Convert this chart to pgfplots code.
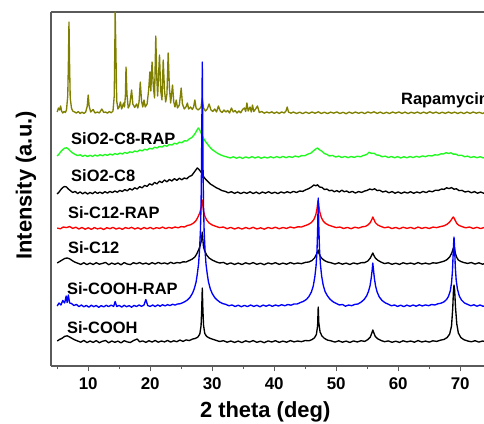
\documentclass[border=0pt]{standalone}
\usepackage{pgfplots}
\pgfplotsset{compat=1.18}
\usepackage{fontspec}
\setmainfont{Liberation Sans}
\definecolor{olivec}{RGB}{128,128,0}
\definecolor{limec}{RGB}{30,250,30}
\definecolor{axgray}{RGB}{90,90,90}
\tikzset{lab/.style={anchor=base west, inner sep=0pt, font=\fontsize{16.5}{16.5}\selectfont\bfseries}}
\begin{document}
\begin{tikzpicture}
\begin{axis}[
  at={(0,0)}, anchor=south west,
  scale only axis, width=437.1bp, height=354bp,
  xmin=4, xmax=74.5, ymin=0, ymax=354,
  axis x line=box, axis y line=left,
  x axis line style={-}, y axis line style={-},
  axis line style={draw=axgray, line width=1.1pt},
  ytick=\empty,
  xtick={10,20,...,70}, minor xtick={5,15,...,75},
  xtick pos=bottom, tick align=outside,
  major tick length=5bp, minor tick length=3bp,
  every tick/.style={draw=axgray, line width=1pt},
  /pgf/number format/assume math mode=true,
  tick label style={font=\fontsize{17}{17}\selectfont\bfseries},
  xticklabel style={yshift=-3bp},
  xlabel={2 theta (deg)},
  xlabel style={font=\fontsize{22}{22}\selectfont\bfseries, at={(axis description cs:0.49,0)}, anchor=base, yshift=-51bp},
  ylabel={Intensity (a.u.)},
  ylabel style={font=\fontsize{22}{22}\selectfont\bfseries, at={(axis description cs:-0.0572,0.51)}, anchor=center},
  every axis plot/.append style={line width=1.35pt, line join=round},
]
% Rapamycin
\addplot[olivec] coordinates {(5.0,254.0)(5.2,258.0)(5.4,256.0)(5.55,260.0)(5.7,255.0)(5.9,253.0)(6.1,254.5)(6.3,253.5)(6.5,256.0)(6.7,270.0)(6.8,300.0)(6.9,344.0)(7.0,300.0)(7.1,268.0)(7.3,258.0)(7.5,255.0)(7.8,254.0)(8.1,253.0)(8.4,254.5)(8.7,252.5)(9.0,253.8)(9.3,252.6)(9.6,254.0)(9.85,260.0)(10.0,271.0)(10.15,260.0)(10.4,254.0)(10.8,256.5)(11.1,253.0)(11.5,254.0)(11.8,253.0)(12.2,257.0)(12.5,253.5)(12.8,254.0)(13.1,252.8)(13.4,254.5)(13.7,253.2)(14.0,255.0)(14.2,270.0)(14.3,320.0)(14.35,354.0)(14.45,320.0)(14.6,265.0)(14.8,257.0)(15.0,259.0)(15.2,264.0)(15.4,257.0)(15.7,263.0)(15.85,259.0)(16.0,270.0)(16.1,299.0)(16.25,272.0)(16.45,258.0)(16.7,261.0)(17.0,276.0)(17.2,262.0)(17.5,258.5)(17.8,262.0)(18.0,258.0)(18.2,264.0)(18.4,284.0)(18.6,265.0)(18.8,259.0)(19.0,266.0)(19.2,259.0)(19.5,262.0)(19.75,276.0)(19.95,294.0)(20.1,275.0)(20.3,304.0)(20.5,280.0)(20.7,268.0)(20.9,330.0)(21.05,290.0)(21.2,270.0)(21.5,311.0)(21.7,275.0)(21.9,266.0)(22.1,306.0)(22.3,276.0)(22.5,264.0)(22.7,272.0)(22.9,313.0)(23.1,278.0)(23.3,263.0)(23.6,281.0)(23.8,264.0)(24.0,259.0)(24.2,266.0)(24.4,258.0)(24.7,261.0)(25.0,278.0)(25.2,262.0)(25.5,257.0)(25.8,259.5)(26.0,263.0)(26.2,257.0)(26.5,259.0)(26.8,256.5)(27.0,259.0)(27.2,266.0)(27.4,258.0)(27.7,256.0)(28.0,257.5)(28.2,259.0)(28.4,268.0)(28.6,258.0)(28.9,255.0)(29.2,257.0)(29.5,262.0)(29.8,256.0)(30.1,254.5)(30.4,257.0)(30.7,254.0)(31.0,260.0)(31.3,255.0)(31.6,253.5)(31.9,256.0)(32.2,254.0)(32.5,255.5)(32.8,253.0)(33.1,258.0)(33.4,254.0)(33.7,255.5)(34.0,253.0)(34.3,255.0)(34.6,253.2)(34.9,256.5)(35.2,258.0)(35.4,254.5)(35.6,263.0)(35.8,255.0)(36.1,259.0)(36.3,254.0)(36.5,261.0)(36.7,254.5)(37.0,257.0)(37.3,260.0)(37.6,253.5)(38.0,254.5)(38.4,252.8)(38.8,254.0)(39.2,253.0)(39.6,254.2)(40.0,252.6)(40.4,254.0)(40.8,252.5)(41.2,254.1)(41.6,253.0)(41.9,255.0)(42.1,259.0)(42.3,254.0)(42.7,252.8)(43.1,254.0)(43.6,252.5)(44.1,253.8)(44.6,252.4)(45.1,253.9)(45.6,252.6)(46.1,254.0)(46.6,252.7)(47.1,254.2)(47.6,252.5)(48.1,253.8)(48.6,252.4)(49.1,253.9)(49.6,252.8)(50.1,254.1)(50.6,252.5)(51.1,253.7)(51.6,252.3)(52.1,253.9)(52.6,252.6)(53.1,254.0)(53.6,252.7)(54.1,253.8)(54.6,252.4)(55.1,254.1)(55.6,252.9)(56.1,254.2)(56.6,252.6)(57.1,253.9)(57.6,252.4)(58.1,253.7)(58.6,252.5)(59.1,254.0)(59.6,252.8)(60.1,254.1)(60.6,252.6)(61.1,253.9)(61.6,252.4)(62.1,253.8)(62.6,252.7)(63.1,254.0)(63.6,252.5)(64.1,253.9)(64.6,252.6)(65.1,254.2)(65.6,252.8)(66.1,253.9)(66.6,252.5)(67.1,253.8)(67.6,252.6)(68.1,254.0)(68.6,252.7)(69.1,253.9)(69.6,252.5)(70.1,253.8)(70.6,252.4)(71.1,253.9)(71.6,252.6)(72.1,254.0)(72.6,252.8)(73.1,253.7)(73.6,252.5)(74.1,253.9)(74.6,252.7)};
% SiO2-C8-RAP
\addplot[limec] coordinates {(5.0,210.0)(5.3,212.0)(5.6,214.5)(5.9,216.5)(6.2,217.8)(6.5,218.2)(6.8,217.0)(7.1,215.0)(7.5,213.0)(7.9,211.5)(8.3,210.4)(8.7,211.2)(9.1,209.6)(9.5,210.8)(9.9,209.4)(10.3,210.7)(10.7,209.6)(11.1,211.0)(11.5,209.9)(11.9,211.3)(12.3,210.2)(12.7,211.6)(13.1,210.6)(13.5,212.0)(13.9,211.0)(14.3,212.4)(14.7,211.5)(15.1,212.9)(15.5,212.0)(15.9,213.6)(16.3,212.6)(16.7,214.2)(17.1,213.4)(17.5,215.0)(17.9,214.2)(18.3,216.0)(18.7,215.1)(19.1,216.8)(19.5,216.0)(19.9,217.8)(20.3,217.0)(20.7,218.7)(21.1,218.0)(21.5,219.6)(21.9,218.9)(22.3,220.6)(22.7,219.8)(23.1,221.6)(23.5,220.9)(23.9,222.8)(24.3,222.0)(24.7,223.9)(25.1,223.2)(25.5,225.2)(25.9,225.0)(26.3,227.0)(26.7,228.4)(27.0,230.5)(27.3,233.0)(27.55,236.0)(27.75,238.0)(27.95,236.5)(28.2,233.0)(28.5,229.0)(28.8,225.5)(29.1,223.0)(29.5,219.8)(29.9,217.0)(30.4,214.6)(30.9,212.6)(31.4,211.0)(31.9,209.8)(32.4,209.0)(32.9,208.0)(33.4,209.2)(33.9,207.8)(34.4,209.0)(34.9,207.6)(35.4,209.1)(35.9,207.9)(36.4,209.4)(36.9,208.0)(37.4,209.2)(37.9,207.7)(38.4,209.0)(38.9,207.9)(39.4,209.3)(39.9,208.1)(40.4,209.4)(40.9,208.2)(41.4,209.6)(41.9,208.3)(42.4,209.5)(42.9,208.6)(43.4,210.0)(43.9,209.0)(44.4,210.4)(44.9,210.2)(45.4,211.8)(45.9,212.8)(46.3,215.0)(46.7,217.0)(47.0,218.0)(47.3,216.2)(47.7,214.8)(48.1,212.4)(48.5,211.6)(48.9,210.0)(49.4,210.6)(49.9,209.0)(50.4,209.9)(50.9,208.5)(51.4,209.6)(51.9,208.3)(52.4,209.5)(52.9,208.6)(53.4,209.8)(53.9,209.2)(54.4,210.6)(54.9,211.4)(55.3,213.8)(55.7,212.6)(56.1,212.8)(56.5,211.0)(56.9,210.8)(57.4,209.2)(57.9,209.9)(58.4,208.4)(58.9,209.6)(59.4,208.2)(59.9,209.4)(60.4,208.0)(60.9,209.3)(61.4,208.2)(61.9,209.5)(62.4,208.4)(62.9,209.7)(63.4,208.8)(63.9,210.1)(64.4,209.3)(64.9,210.5)(65.4,210.0)(65.9,211.2)(66.4,210.9)(66.9,212.2)(67.3,212.0)(67.7,213.3)(68.1,212.5)(68.5,213.2)(68.9,211.8)(69.3,211.9)(69.7,210.5)(70.2,210.8)(70.7,209.3)(71.2,209.9)(71.7,208.5)(72.2,209.4)(72.7,208.2)(73.2,209.3)(73.7,208.1)(74.2,209.1)(74.8,208.4)};
% SiO2-C8
\addplot[black] coordinates {(5.0,172.0)(5.3,174.0)(5.6,176.5)(5.9,178.5)(6.2,179.5)(6.5,179.0)(6.8,177.0)(7.1,175.5)(7.5,173.5)(7.9,174.6)(8.3,172.4)(8.7,174.1)(9.1,172.2)(9.5,173.8)(9.9,172.0)(10.3,173.6)(10.7,172.3)(11.1,174.2)(11.5,172.6)(11.9,173.9)(12.3,172.5)(12.7,174.4)(13.1,172.9)(13.5,174.6)(13.9,173.4)(14.3,175.0)(14.7,173.8)(15.1,175.6)(15.5,174.5)(15.9,176.4)(16.3,175.2)(16.7,177.3)(17.1,176.0)(17.5,178.2)(17.9,177.0)(18.3,179.4)(18.7,178.1)(19.1,180.6)(19.5,179.6)(19.9,182.2)(20.3,181.0)(20.7,183.5)(21.1,182.2)(21.5,184.8)(21.9,183.4)(22.3,186.0)(22.7,184.2)(23.1,186.5)(23.5,185.0)(23.9,187.4)(24.3,185.6)(24.7,187.8)(25.1,186.2)(25.5,188.0)(25.9,187.2)(26.3,189.5)(26.7,190.5)(27.0,193.0)(27.3,195.5)(27.6,198.0)(27.8,197.0)(28.0,195.5)(28.3,193.0)(28.6,189.5)(28.9,187.0)(29.3,184.5)(29.7,182.0)(30.1,180.5)(30.6,178.5)(31.1,177.0)(31.6,175.4)(32.1,174.6)(32.6,173.2)(33.1,174.3)(33.6,172.6)(34.1,174.0)(34.6,172.4)(35.1,173.8)(35.6,172.7)(36.1,174.2)(36.6,172.5)(37.1,173.9)(37.6,172.3)(38.1,174.0)(38.6,172.8)(39.1,174.3)(39.6,172.6)(40.1,173.8)(40.6,172.4)(41.1,174.1)(41.6,172.9)(42.1,174.3)(42.6,173.1)(43.1,174.6)(43.6,173.5)(44.1,175.0)(44.6,174.6)(45.1,176.2)(45.6,177.5)(46.0,179.0)(46.4,181.0)(46.7,180.2)(47.0,181.2)(47.3,179.0)(47.7,178.6)(48.1,176.5)(48.5,176.9)(48.9,175.2)(49.3,175.8)(49.7,174.2)(50.1,175.4)(50.5,174.0)(50.9,175.8)(51.3,174.3)(51.7,175.0)(52.1,173.4)(52.6,174.6)(53.1,173.0)(53.6,174.4)(54.1,173.6)(54.6,175.0)(55.0,175.6)(55.4,177.0)(55.8,176.2)(56.2,177.2)(56.6,175.4)(57.0,175.8)(57.5,174.0)(58.0,174.9)(58.5,173.2)(59.0,174.4)(59.5,172.8)(60.0,174.1)(60.5,172.6)(61.0,174.0)(61.5,172.9)(62.0,174.3)(62.5,172.7)(63.0,174.1)(63.5,173.0)(64.0,174.6)(64.5,173.4)(65.0,175.0)(65.5,174.2)(66.0,175.8)(66.5,175.6)(67.0,177.0)(67.4,176.6)(67.8,178.2)(68.2,177.4)(68.6,178.4)(69.0,176.8)(69.4,177.2)(69.8,175.4)(70.3,175.6)(70.8,174.0)(71.3,174.8)(71.8,173.2)(72.3,174.4)(72.8,172.8)(73.3,174.0)(73.8,172.7)(74.3,173.8)(74.8,173.0)};
% Si-C12-RAP
\addplot[red] coordinates {(5.0,138.0)(5.5,137.2)(6.0,139.0)(6.5,138.4)(7.0,139.5)(7.5,137.6)(8.0,138.8)(8.5,137.0)(9.0,138.5)(9.5,136.8)(10.0,138.2)(10.5,136.6)(11.0,138.4)(11.5,137.1)(12.0,138.0)(12.5,136.5)(13.0,138.3)(13.5,137.3)(14.0,138.6)(14.5,136.9)(15.0,138.1)(15.5,136.7)(16.0,138.4)(16.5,137.4)(17.0,138.7)(17.5,137.0)(18.0,138.2)(18.5,136.8)(19.0,138.5)(19.5,137.2)(20.0,138.6)(20.5,137.1)(21.0,138.3)(21.5,137.6)(22.0,138.9)(22.5,137.4)(23.0,138.6)(23.5,137.8)(24.0,139.0)(24.5,138.2)(25.0,139.4)(25.5,139.0)(26.0,140.5)(26.5,141.2)(27.0,143.0)(27.4,145.5)(27.7,149.0)(28.0,153.0)(28.2,158.0)(28.3,162.0)(28.4,166.0)(28.5,160.0)(28.6,155.0)(28.8,150.0)(29.1,146.0)(29.5,143.0)(30.0,141.0)(30.6,139.6)(31.2,138.4)(31.8,139.0)(32.4,137.3)(33.0,138.6)(33.6,137.0)(34.2,138.4)(34.8,136.9)(35.4,138.5)(36.0,137.2)(36.6,138.7)(37.2,137.0)(37.8,138.2)(38.4,136.8)(39.0,138.6)(39.6,137.4)(40.2,138.8)(40.8,137.2)(41.4,138.5)(42.0,137.6)(42.6,139.0)(43.2,138.0)(43.8,139.2)(44.4,139.0)(45.0,140.4)(45.5,141.5)(46.0,143.5)(46.4,146.5)(46.7,151.0)(46.9,157.0)(47.0,162.0)(47.1,166.0)(47.2,160.0)(47.35,154.0)(47.6,148.5)(47.9,145.0)(48.3,142.5)(48.8,140.8)(49.4,139.6)(50.0,138.4)(50.6,139.0)(51.2,137.5)(51.8,138.6)(52.4,137.3)(53.0,138.8)(53.6,137.9)(54.2,139.2)(54.7,139.6)(55.1,141.0)(55.5,143.5)(55.75,146.5)(55.9,149.0)(56.05,147.0)(56.3,143.5)(56.7,141.0)(57.2,139.6)(57.8,138.2)(58.4,139.0)(59.0,137.4)(59.6,138.6)(60.2,137.2)(60.8,138.8)(61.4,137.6)(62.0,138.6)(62.6,137.3)(63.2,138.9)(63.8,137.6)(64.4,138.6)(65.0,137.5)(65.6,138.9)(66.2,138.4)(66.8,139.4)(67.4,140.2)(67.9,141.8)(68.3,144.0)(68.6,146.5)(68.8,148.5)(68.9,149.0)(69.0,148.0)(69.2,145.5)(69.45,142.5)(69.8,140.6)(70.3,139.4)(70.9,138.2)(71.5,139.0)(72.1,137.5)(72.7,138.7)(73.3,137.4)(73.9,138.6)(74.5,137.6)};
% Si-C12
\addplot[black] coordinates {(5.0,103.0)(5.4,104.5)(5.8,106.0)(6.2,107.5)(6.6,108.0)(7.0,107.2)(7.4,105.5)(7.8,104.0)(8.3,102.8)(8.8,101.6)(9.3,103.2)(9.8,101.4)(10.3,102.9)(10.8,101.5)(11.3,103.3)(11.8,101.8)(12.3,102.6)(12.8,103.6)(13.3,101.3)(13.8,102.9)(14.3,101.7)(14.8,103.0)(15.3,101.2)(15.8,103.4)(16.3,102.0)(16.8,101.4)(17.3,103.3)(17.8,102.2)(18.3,103.5)(18.8,101.9)(19.3,103.0)(19.8,101.6)(20.3,103.4)(20.8,102.0)(21.3,103.6)(21.8,102.3)(22.3,103.1)(22.8,102.0)(23.3,103.7)(23.8,102.4)(24.3,103.5)(24.8,103.0)(25.3,104.2)(25.8,104.0)(26.3,105.5)(26.8,107.0)(27.2,109.0)(27.5,112.0)(27.8,116.0)(28.0,119.0)(28.2,124.0)(28.3,129.0)(28.4,134.0)(28.5,126.0)(28.6,119.0)(28.8,115.0)(29.1,111.0)(29.5,108.0)(30.0,106.0)(30.6,104.2)(31.2,103.0)(31.8,103.6)(32.4,101.8)(33.0,103.1)(33.6,101.6)(34.2,102.9)(34.8,101.5)(35.4,103.2)(36.0,101.9)(36.6,103.4)(37.2,101.7)(37.8,102.8)(38.4,101.3)(39.0,103.1)(39.6,102.0)(40.2,103.3)(40.8,101.6)(41.4,102.9)(42.0,101.8)(42.6,103.4)(43.2,102.1)(43.8,103.0)(44.4,102.3)(45.0,103.6)(45.6,104.0)(46.1,105.5)(46.5,108.0)(46.8,111.5)(47.0,114.0)(47.1,116.0)(47.2,113.0)(47.4,110.0)(47.7,107.5)(48.1,105.5)(48.6,104.0)(49.2,103.2)(49.8,101.9)(50.4,103.2)(51.0,101.8)(51.6,102.9)(52.2,101.5)(52.8,103.1)(53.4,102.0)(54.0,103.3)(54.6,103.4)(55.1,105.0)(55.5,108.0)(55.75,111.0)(55.9,113.0)(56.05,111.0)(56.3,108.0)(56.7,105.8)(57.2,104.0)(57.8,102.4)(58.4,103.2)(59.0,101.7)(59.6,102.8)(60.2,101.6)(60.8,103.2)(61.4,102.1)(62.0,103.0)(62.6,101.8)(63.2,103.4)(63.8,102.0)(64.4,102.9)(65.0,101.9)(65.6,103.2)(66.2,102.8)(66.8,103.8)(67.4,104.8)(67.9,106.5)(68.3,109.0)(68.6,112.5)(68.8,116.0)(68.9,118.0)(69.0,119.0)(69.1,116.5)(69.25,112.0)(69.45,108.5)(69.7,106.0)(70.1,104.5)(70.6,103.4)(71.2,102.6)(71.8,103.5)(72.4,101.9)(73.0,103.2)(73.6,101.8)(74.2,103.0)(74.8,102.2)};
% Si-COOH
\addplot[black] coordinates {(5.0,25.0)(5.4,26.6)(5.8,27.8)(6.2,29.6)(6.6,30.2)(7.0,29.0)(7.4,27.6)(7.8,26.2)(8.3,25.0)(8.8,23.8)(9.3,25.6)(9.8,23.4)(10.3,25.0)(10.8,23.6)(11.3,25.4)(11.8,23.3)(12.3,24.7)(12.8,25.5)(13.3,23.2)(13.8,25.0)(14.3,23.7)(14.8,24.9)(15.3,23.1)(15.8,25.3)(16.3,24.1)(16.8,23.5)(17.3,25.4)(17.9,27.0)(18.3,24.2)(18.8,25.1)(19.3,23.6)(19.8,25.3)(20.3,23.9)(20.8,25.5)(21.3,23.8)(21.8,25.0)(22.3,24.1)(22.8,25.6)(23.3,23.9)(23.8,25.2)(24.3,24.3)(24.8,25.9)(25.3,24.6)(25.8,26.1)(26.3,25.4)(26.8,26.9)(27.3,27.6)(27.7,29.0)(28.0,32.0)(28.2,40.0)(28.3,55.0)(28.4,78.0)(28.5,56.0)(28.6,41.0)(28.8,32.5)(29.1,29.6)(29.5,28.1)(30.0,26.9)(30.6,25.7)(31.2,24.5)(31.8,25.3)(32.4,23.8)(33.0,25.0)(33.6,23.6)(34.2,24.9)(34.8,23.4)(35.4,25.2)(36.0,23.9)(36.6,25.4)(37.2,23.7)(37.8,24.8)(38.4,23.3)(39.0,25.1)(39.6,24.0)(40.2,25.3)(40.8,23.6)(41.4,24.9)(42.0,23.8)(42.6,25.4)(43.2,24.1)(43.8,25.0)(44.4,24.3)(45.0,25.5)(45.6,25.2)(46.1,26.4)(46.5,28.2)(46.8,31.5)(47.0,40.0)(47.1,59.0)(47.2,43.0)(47.4,34.0)(47.7,30.0)(48.1,27.6)(48.6,25.9)(49.2,25.1)(49.8,23.9)(50.4,25.2)(51.0,23.8)(51.6,24.9)(52.2,23.5)(52.8,25.1)(53.4,24.0)(54.0,25.3)(54.6,24.6)(55.1,26.4)(55.5,29.0)(55.75,33.0)(55.9,36.0)(56.05,33.5)(56.3,29.5)(56.7,27.2)(57.2,25.6)(57.8,24.3)(58.4,25.1)(59.0,23.7)(59.6,24.8)(60.2,23.6)(60.8,25.2)(61.4,24.1)(62.0,25.0)(62.6,23.8)(63.2,25.4)(63.8,24.0)(64.4,24.9)(65.0,23.9)(65.6,25.2)(66.2,24.6)(66.8,25.8)(67.4,26.6)(67.9,28.5)(68.3,32.0)(68.6,40.0)(68.8,58.0)(68.9,74.0)(69.0,81.0)(69.1,76.0)(69.25,58.0)(69.45,42.0)(69.7,33.0)(70.1,28.5)(70.6,26.3)(71.2,25.0)(71.8,24.2)(72.4,25.3)(73.0,23.9)(73.6,25.0)(74.2,24.1)(74.8,24.8)};
% Si-COOH-RAP
\addplot[blue] coordinates {(5.0,60.0)(5.3,63.0)(5.6,61.0)(5.9,65.5)(6.2,63.0)(6.45,70.0)(6.6,63.5)(6.8,71.0)(7.0,63.0)(7.3,62.5)(7.7,60.5)(8.1,61.6)(8.5,59.4)(8.9,61.0)(9.3,59.2)(9.7,60.6)(10.1,58.8)(10.5,60.8)(10.9,59.3)(11.3,60.5)(11.7,58.7)(12.1,60.4)(12.5,59.1)(12.9,60.7)(13.3,59.4)(13.7,60.9)(14.1,59.6)(14.35,64.5)(14.6,59.4)(15.0,60.6)(15.4,58.9)(15.8,60.7)(16.2,59.3)(16.6,60.4)(17.0,58.8)(17.4,60.6)(17.8,59.5)(18.2,61.0)(18.6,59.7)(19.0,61.0)(19.3,66.5)(19.6,60.4)(20.0,59.6)(20.4,61.0)(20.8,59.4)(21.2,61.1)(21.6,59.8)(22.0,61.3)(22.4,60.1)(22.8,61.4)(23.2,60.4)(23.6,61.7)(24.0,60.9)(24.4,62.0)(24.8,62.2)(25.2,63.2)(25.6,64.4)(26.0,66.0)(26.4,68.5)(26.8,72.5)(27.1,77.0)(27.4,84.0)(27.6,92.0)(27.8,102.0)(27.95,115.0)(28.1,135.0)(28.2,160.0)(28.28,200.0)(28.34,250.0)(28.4,304.0)(28.46,250.0)(28.52,200.0)(28.6,160.0)(28.7,135.0)(28.85,115.0)(29.0,102.0)(29.2,92.0)(29.4,84.0)(29.7,77.0)(30.0,72.5)(30.4,68.5)(30.8,66.0)(31.2,64.0)(31.7,62.4)(32.2,61.6)(32.7,60.2)(33.2,61.1)(33.7,59.5)(34.2,60.8)(34.7,59.3)(35.2,60.6)(35.7,59.4)(36.2,61.0)(36.7,59.6)(37.2,60.7)(37.7,59.2)(38.2,60.9)(38.7,59.8)(39.2,61.1)(39.7,59.7)(40.2,61.0)(40.7,60.0)(41.2,61.3)(41.7,60.2)(42.2,61.5)(42.7,60.8)(43.2,62.0)(43.7,62.0)(44.2,63.4)(44.7,64.6)(45.2,66.6)(45.6,69.5)(46.0,74.0)(46.3,80.0)(46.55,89.0)(46.75,100.0)(46.9,115.0)(47.0,135.0)(47.1,168.0)(47.2,138.0)(47.3,118.0)(47.45,102.0)(47.65,90.0)(47.9,81.0)(48.2,74.5)(48.6,70.0)(49.0,66.8)(49.5,64.2)(50.0,62.6)(50.5,61.0)(51.0,61.5)(51.5,59.8)(52.0,61.0)(52.5,60.3)(53.0,61.6)(53.5,62.0)(54.0,63.8)(54.5,66.5)(54.9,70.0)(55.2,74.5)(55.45,80.0)(55.65,88.0)(55.8,96.0)(55.9,103.0)(56.0,97.0)(56.15,88.0)(56.35,80.0)(56.6,74.0)(56.95,69.0)(57.4,65.5)(57.9,63.2)(58.4,61.8)(58.9,60.2)(59.4,61.0)(59.9,59.6)(60.4,60.8)(60.9,59.4)(61.4,60.9)(61.9,59.7)(62.4,61.0)(62.9,59.8)(63.4,61.2)(63.9,60.0)(64.4,61.1)(64.9,60.3)(65.4,61.5)(65.9,61.0)(66.4,62.2)(66.9,62.8)(67.4,64.2)(67.8,66.5)(68.1,69.5)(68.4,75.0)(68.6,83.0)(68.75,95.0)(68.85,110.0)(68.95,124.0)(69.0,129.0)(69.1,118.0)(69.2,100.0)(69.35,86.0)(69.55,77.0)(69.85,70.0)(70.2,66.0)(70.7,63.0)(71.2,61.6)(71.7,60.2)(72.2,61.2)(72.7,59.8)(73.2,61.0)(73.7,59.7)(74.2,60.8)(74.8,60.0)};
% labels
\node[lab] at (axis cs:6.58,33) {Si-COOH};
\node[lab] at (axis cs:6.58,72) {Si-COOH-RAP};
\node[lab] at (axis cs:6.74,112) {Si-C12};
\node[lab] at (axis cs:6.74,147) {Si-C12-RAP};
\node[lab] at (axis cs:7.23,184) {SiO2-C8};
\node[lab] at (axis cs:7.23,221) {SiO2-C8-RAP};
\node[lab] at (axis cs:60.45,261) {Rapamycin};
\end{axis}
\pgfresetboundingbox
\useasboundingbox (-51bp,-58bp) rectangle (433bp,366bp);
\end{tikzpicture}
\end{document}
